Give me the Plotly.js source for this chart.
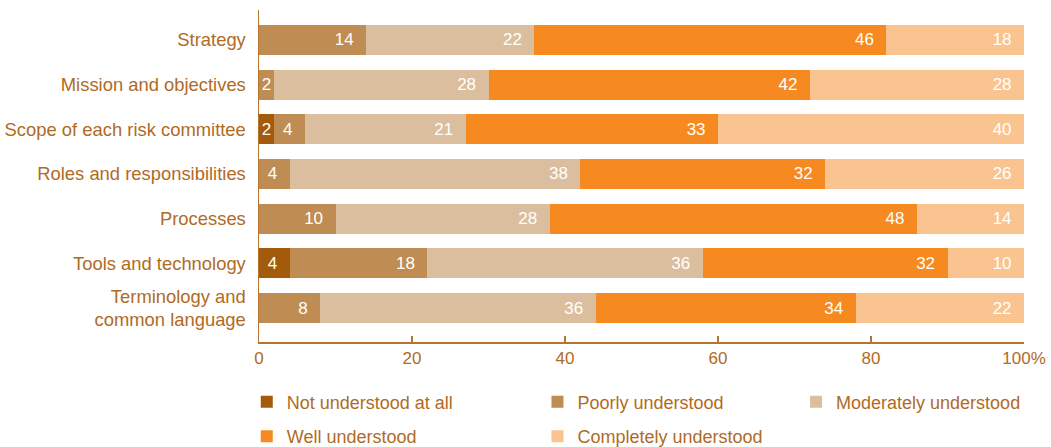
<!DOCTYPE html>
<html>
<head>
<meta charset="utf-8">
<script src="https://cdn.plot.ly/plotly-3.0.1.min.js"></script>
<style>html,body{margin:0;padding:0;background:#fff;}#chart{width:1051px;height:447px;}</style>
</head>
<body>
<div id="chart"></div>
<script>
var categories = ['Strategy', 'Mission and objectives', 'Scope of each risk committee',
  'Roles and responsibilities', 'Processes', 'Tools and technology', 'Terminology and<br>common language'];
var notUnderstood = [null, null, 2, null, null, 4, null];
var poorlyUnderstood = [14, 2, 4, 4, 10, 18, 8];
var moderatelyUnderstood = [22, 28, 21, 38, 28, 36, 36];
var wellUnderstood = [46, 42, 33, 32, 48, 32, 34];
var completelyUnderstood = [18, 28, 40, 26, 14, 10, 22];
var xTickVals = [0, 20, 40, 60, 80, 100];
var xTickText = ['0', '20', '40', '60', '80', '100%'];

var TXT = '#B06B24';
var LINE = '#B5752F';
var FONT = 'Liberation Sans, Arial, sans-serif';

function labels(vals) {
  return vals.map(function (v) {
    if (v === null) return '';
    return v > 3 ? v + '\u00a0\u00a0' : String(v);
  });
}

function series(name, vals, color, legendId) {
  return {
    type: 'bar', orientation: 'h', name: name,
    y: categories, x: vals,
    width: 0.67,
    marker: {color: color, line: {width: 0}},
    text: labels(vals),
    textposition: 'inside', insidetextanchor: 'end', textangle: 0,
    constraintext: 'none',
    textfont: {color: '#ffffff', size: 17, family: FONT},
    hoverinfo: 'x+y+name',
    legend: legendId, legendgroup: name
  };
}

var data = [
  series('Not understood at all', notUnderstood, '#A35A0B', 'legend'),
  series('Poorly understood', poorlyUnderstood, '#BF8C53', 'legend2'),
  series('Moderately understood', moderatelyUnderstood, '#DBBE9E', 'legend3'),
  series('Well understood', wellUnderstood, '#F68A20', 'legend'),
  series('Completely understood', completelyUnderstood, '#F9C48F', 'legend2')
];

function legendAt(x) {
  return {
    orientation: 'v', x: x, xanchor: 'left',
    yref: 'container', y: 0.142, yanchor: 'top',
    font: {size: 18, color: TXT, family: FONT},
    tracegroupgap: 8, traceorder: 'grouped', bgcolor: 'rgba(0,0,0,0)'
  };
}

var layout = {
  width: 1051, height: 447,
  margin: {l: 259, r: 27, t: 10, b: 105},
  paper_bgcolor: '#ffffff', plot_bgcolor: '#ffffff',
  barmode: 'stack',
  font: {family: FONT, color: TXT},
  showlegend: true,
  legend: legendAt(-0.016),
  legend2: legendAt(0.364),
  legend3: legendAt(0.702),
  xaxis: {
    range: [0, 100], tickvals: xTickVals, ticktext: xTickText,
    ticks: 'inside', ticklen: 6, tickwidth: 1.5, tickcolor: LINE,
    showline: true, linecolor: LINE, linewidth: 1.5,
    showgrid: false, zeroline: false,
    tickfont: {size: 17, color: TXT, family: FONT}
  },
  yaxis: {
    type: 'category', categoryarray: categories, categoryorder: 'array',
    range: [6.76, -0.67],
    showline: true, linecolor: LINE, linewidth: 1.5,
    ticks: '', ticklabelstandoff: 8, showgrid: false, zeroline: false,
    tickfont: {size: 18.4, color: TXT, family: FONT}
  }
};

Plotly.newPlot('chart', data, layout, {displayModeBar: false, staticPlot: true});
</script>
</body>
</html>
